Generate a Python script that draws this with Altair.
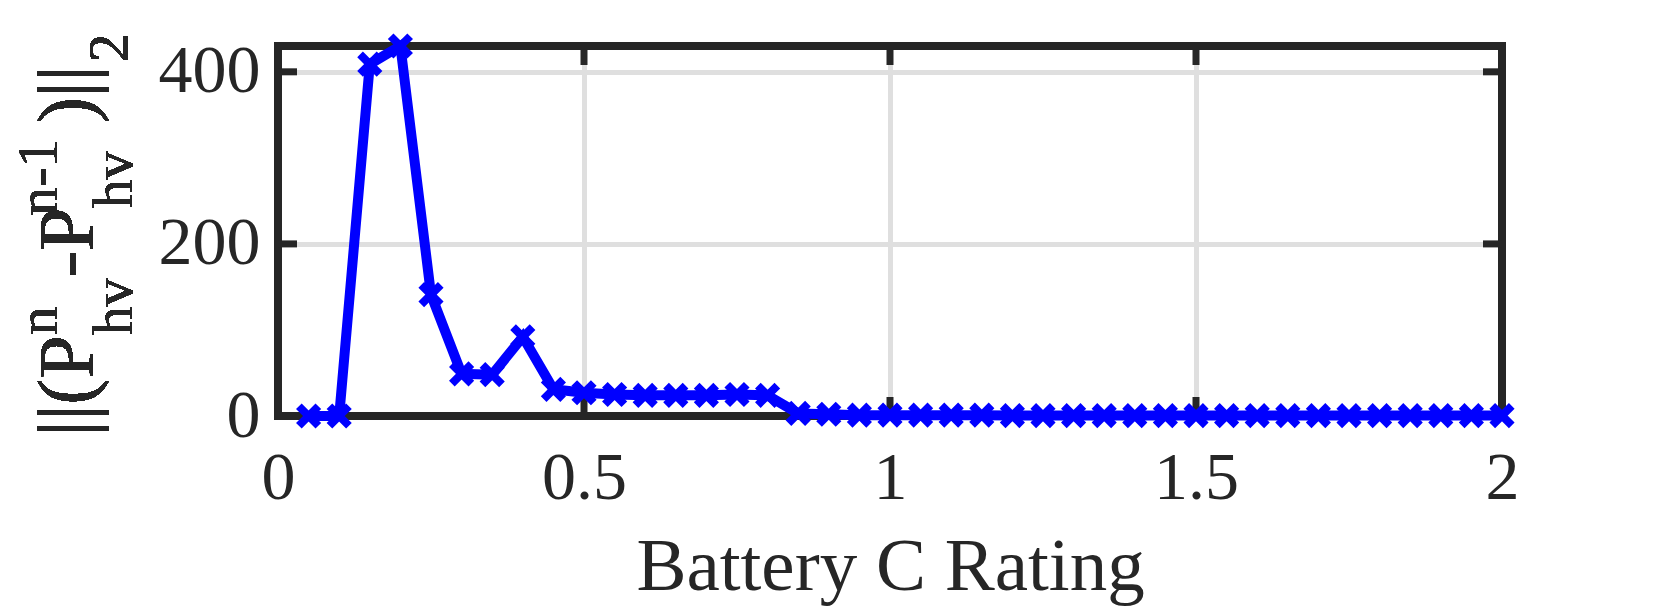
import altair as alt
import pandas as pd

# ---- data ----
c_rating = [0.05, 0.10, 0.15, 0.20, 0.25, 0.30, 0.35, 0.40, 0.45, 0.50,
            0.55, 0.60, 0.65, 0.70, 0.75, 0.80, 0.85, 0.90, 0.95, 1.00,
            1.05, 1.10, 1.15, 1.20, 1.25, 1.30, 1.35, 1.40, 1.45, 1.50,
            1.55, 1.60, 1.65, 1.70, 1.75, 1.80, 1.85, 1.90, 1.95, 2.00]
norm_diff = [0, 0, 409, 430, 141, 49, 48, 92, 31, 27,
             25, 24, 24, 24, 25, 24, 3, 2, 1, 1,
             1, 1, 1, 0.5, 0.5, 0.5, 0.5, 0.5, 0.5, 0.5,
             0.5, 0.5, 0.5, 0.5, 0.5, 0.5, 0.5, 0.5, 0.5, 0.5]
x_ticks = [0, 0.5, 1, 1.5, 2]
y_ticks = [0, 200, 400]

df = pd.DataFrame({"c": c_rating, "v": norm_diff})
dfx = pd.DataFrame({"c": x_ticks})
dfy = pd.DataFrame({"v": y_ticks})

W, H = 1224, 370
FONT = "Liberation Serif"
INK = "#262626"

xs = alt.Scale(domain=[0, 2], nice=False)
ys = alt.Scale(domain=[0, 430], nice=False)

XAXIS = alt.Axis(values=x_ticks, format="~g", title="Battery C Rating",
                 grid=True, gridColor="#dfdfdf", gridWidth=5,
                 domain=False, ticks=False, tickSize=0,
                 labelFont=FONT, labelFontSize=68, labelColor=INK,
                 labelPadding=28, labelFlush=False,
                 titleFont=FONT, titleFontSize=75, titleColor=INK,
                 titleFontWeight="normal", titleBaseline="alphabetic",
                 titleY=173)
YAXIS = alt.Axis(values=y_ticks, format="d", title=None,
                 grid=True, gridColor="#dfdfdf", gridWidth=5,
                 domain=False, ticks=False, tickSize=0,
                 labelFont=FONT, labelFontSize=68, labelColor=INK,
                 labelPadding=18, labelFlush=False)

base = alt.Chart(df).encode(
    x=alt.X("c:Q", scale=xs, axis=XAXIS),
    y=alt.Y("v:Q", scale=ys, axis=YAXIS),
)

frame = alt.Chart(df).mark_rect(fill="transparent", stroke=INK, strokeWidth=7).encode(
    x=alt.value(0), x2=alt.value(W), y=alt.value(0), y2=alt.value(H))

tick_style = dict(color=INK, strokeWidth=7, strokeCap="butt")
xt_bottom = alt.Chart(dfx).mark_rule(**tick_style).encode(
    x=alt.X("c:Q", scale=xs, axis=XAXIS), y=alt.value(H), y2=alt.value(H - 19))
xt_top = alt.Chart(dfx).mark_rule(**tick_style).encode(
    x=alt.X("c:Q", scale=xs, axis=XAXIS), y=alt.value(0), y2=alt.value(19))
yt_left = alt.Chart(dfy).mark_rule(**tick_style).encode(
    y=alt.Y("v:Q", scale=ys, axis=YAXIS), x=alt.value(0), x2=alt.value(19))
yt_right = alt.Chart(dfy).mark_rule(**tick_style).encode(
    y=alt.Y("v:Q", scale=ys, axis=YAXIS), x=alt.value(W - 19), x2=alt.value(W))

line = base.mark_line(color="#0000ff", strokeWidth=10, strokeJoin="miter")
pts = base.mark_point(shape="M-1,-1L1,1M-1,1L1,-1", filled=False, color="#0000ff",
                      strokeWidth=8, size=380, opacity=1)

# rotated y-axis title built from pieces (main text, superscripts, subscripts)
def piece(txt, size, x, y):
    return alt.Chart(df).mark_text(angle=270, align="left", baseline="alphabetic",
                                   font=FONT, fontSize=size, color=INK).encode(
        x=alt.value(x), y=alt.value(y), text=alt.value(txt))

ylabel = [
    piece("||(P", 78, -186, 390),
    piece("n", 57, -221, 289),
    piece("hv", 57, -146, 289),
    piece("-", 78, -186, 231),
    piece("P", 78, -186, 205),
    piece("n-1", 58, -221, 170),
    piece("hv", 57, -146, 162),
    piece(")||", 78, -186, 77),
    piece("2", 57, -150, 16),
]

chart = alt.layer(
    base.mark_point(opacity=0), frame, xt_bottom, xt_top, yt_left, yt_right,
    line, pts, *ylabel
).properties(
    width=W, height=H,
    autosize=alt.AutoSizeParams(type="none"),
    padding={"left": 270, "top": 38, "right": 140, "bottom": 192},
    background="white",
).configure_view(strokeWidth=0)

chart.save("out.html", embed_options={"renderer": "svg", "actions": False})
